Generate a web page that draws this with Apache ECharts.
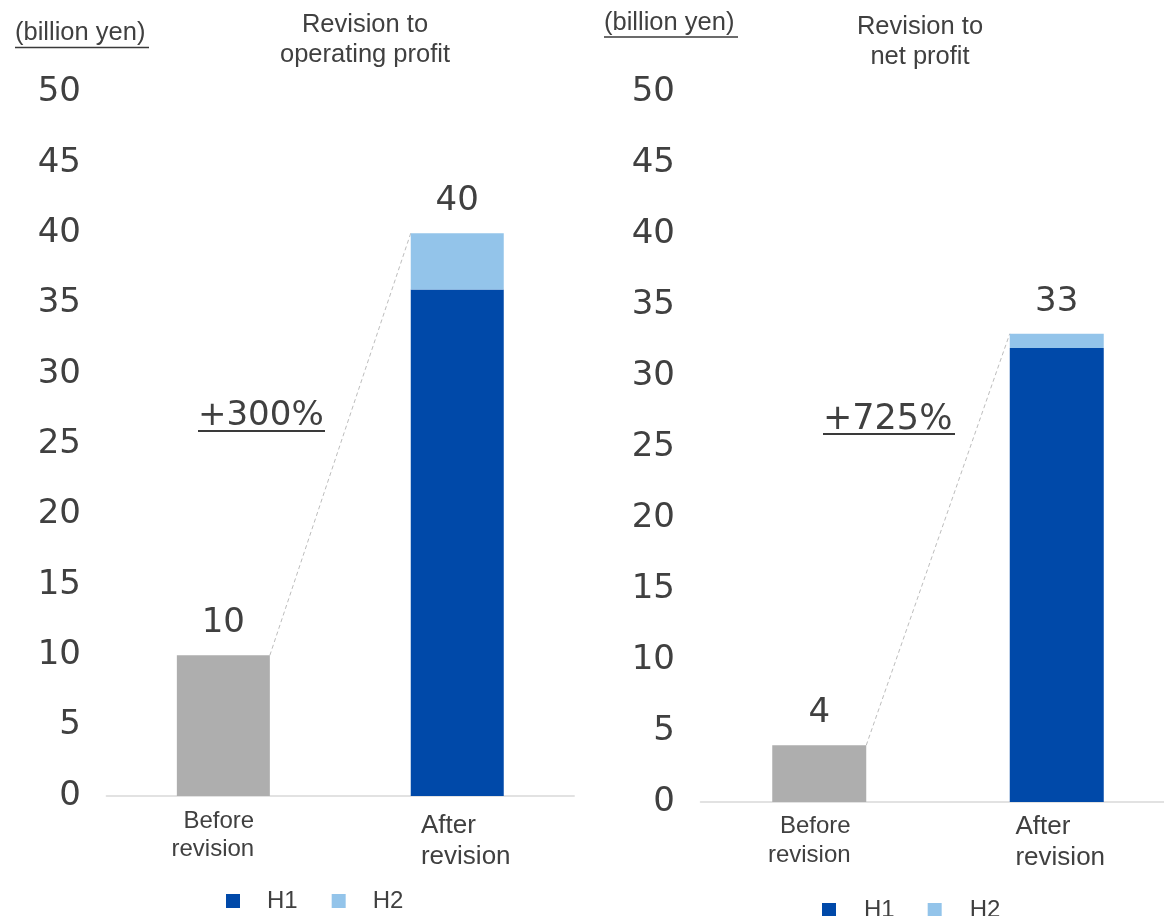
<!DOCTYPE html>
<html>
<head>
<meta charset="utf-8">
<script src="https://cdn.jsdelivr.net/npm/echarts@6/dist/echarts.min.js"></script>
<style>
html,body{margin:0;padding:0;background:#fff;}
#main{width:1164px;height:916px;}
</style>
</head>
<body>
<div id="main"></div>
<script>
// ---- data ----
const categories = ['Before revision', 'After revision'];
const opBefore = [10, '-'];
const opH1 = ['-', 36];
const opH2 = ['-', 4];
const opTotals = [10, 40];
const netBefore = [4, '-'];
const netH1 = ['-', 32];
const netH2 = ['-', 1];
const netTotals = [4, 33];
const yMin = 0, yMax = 50, yStep = 5;
const opChange = '+300%';
const netChange = '+725%';
const titles = ['Revision to\noperating profit', 'Revision to\nnet profit'];
const unitLabel = '(billion yen)';
const legendNames = ['H1', 'H2'];

// ---- styles ----
const GRAY = '#AEAEAE', H1C = '#0049A9', H2C = '#93C4EA';
const TXT = '#404040';
const NUMFONT = 'DejaVu Sans';
const SANS = 'Liberation Sans, Arial, sans-serif';

const chart = echarts.init(document.getElementById('main'));

function xAxisFor(gridIndex, beforePad, afterPad, margin) {
  return {
    type: 'category', gridIndex: gridIndex,
    data: [
      {value: categories[0], textStyle: {padding: beforePad}},
      {value: categories[1], textStyle: {padding: afterPad}}
    ],
    axisLine: {show: true, lineStyle: {color: '#D9D9D9', width: 1.5}},
    axisTick: {show: false},
    axisLabel: {
      margin: margin, interval: 0, hideOverlap: false,
      formatter: function (v, i) {
        const parts = v.split(' ');
        return i === 0 ? '{b|' + parts[0] + '}\n{b|' + parts[1] + '}'
                       : '{a|' + parts[0] + '}\n{a|' + parts[1] + '}';
      },
      rich: {
        b: {fontFamily: SANS, fontSize: 24, lineHeight: gridIndex === 0 ? 28 : 29, color: TXT, align: 'right'},
        a: {fontFamily: SANS, fontSize: 26, lineHeight: 31, color: TXT, align: 'left'}
      }
    }
  };
}
function yAxisFor(gridIndex) {
  return {
    type: 'value', gridIndex: gridIndex, min: yMin, max: yMax, interval: yStep,
    axisLine: {show: false}, axisTick: {show: false}, splitLine: {show: false},
    axisLabel: {margin: 25.5, align: 'right', fontFamily: NUMFONT, fontSize: 34, color: TXT}
  };
}
const valLabel = {show: true, position: 'top', distance: 15, fontFamily: NUMFONT, fontSize: 34, color: TXT};

function seriesFor(idx, before, h1, h2, totals, bw) {
  return [
    {name: 'Before', type: 'bar', xAxisIndex: idx, yAxisIndex: idx, stack: 's' + idx, barWidth: bw,
     data: before, itemStyle: {color: GRAY}, label: valLabel},
    {name: 'H1', type: 'bar', xAxisIndex: idx, yAxisIndex: idx, stack: 's' + idx, barWidth: bw,
     data: h1, itemStyle: {color: H1C}},
    {name: 'H2', type: 'bar', xAxisIndex: idx, yAxisIndex: idx, stack: 's' + idx, barWidth: bw,
     data: h2, itemStyle: {color: H2C},
     label: Object.assign({}, valLabel, {formatter: function (p) { return totals[p.dataIndex]; }})}
  ];
}
function legendFor(left, top, pad, gap) {
  return {
    data: legendNames, left: left, top: top, orient: 'horizontal',
    icon: 'rect', itemWidth: 14, itemHeight: 14, itemGap: gap,
    selectedMode: false,
    formatter: '{t|{name}}',
    textStyle: {rich: {t: {fontFamily: SANS, fontSize: 24, color: TXT, padding: [0, 0, 0, pad], lineHeight: 24}}}
  };
}

function textEl(x, y, text, font, size, align, lh) {
  return {type: 'text', x: x, y: y, silent: true,
    style: {text: text, fontFamily: font, fontSize: size, fill: TXT, align: align, verticalAlign: 'middle', lineHeight: lh || size}};
}
function underline(x1, x2, y, w) {
  return {type: 'line', silent: true, shape: {x1: x1, y1: y, x2: x2, y2: y}, style: {stroke: '#3a3a3a', lineWidth: w}};
}

const option = {
  animation: false,
  backgroundColor: '#fff',
  grid: [
    {left: 106.4, width: 467.8, top: 92.5, height: 703.5, outerBoundsMode: 'none', containLabel: false},
    {left: 700.5, width: 475, top: 92.5, height: 709.5, outerBoundsMode: 'none', containLabel: false}
  ],
  xAxis: [
    xAxisFor(0, [0, 21, 0, 0], [3.5, 0, 0, 17], 11),
    xAxisFor(1, [0, 20, 0, 0], [0, 0, 0, 7], 9.5)
  ],
  yAxis: [yAxisFor(0), yAxisFor(1)],
  legend: [legendFor(221, 884, 22, 34), legendFor(817, 893, 23, 33)],
  series: [].concat(
    seriesFor(0, opBefore, opH1, opH2, opTotals, 93),
    seriesFor(1, netBefore, netH1, netH2, netTotals, 94)
  ),
  graphic: [
    textEl(15, 33, unitLabel, SANS, 25.5, 'left'),
    underline(15, 149, 47.5, 1.5),
    textEl(604, 22.5, unitLabel, SANS, 25.5, 'left'),
    underline(604, 738, 37, 1.5),
    textEl(365, 40, titles[0], SANS, 25.5, 'center', 30),
    textEl(920, 42, titles[1], SANS, 25.5, 'center', 30),
    textEl(198, 416, opChange, NUMFONT, 34, 'left'),
    underline(198, 325, 431, 2),
    textEl(823, 420, netChange, NUMFONT, 35, 'left'),
    underline(823, 955, 434, 2)
  ]
};
chart.setOption(option);

// connector lines from top-right of "before" bar to top-left of "after" bar
function connector(idx, totals, bw) {
  const p0 = chart.convertToPixel({xAxisIndex: idx, yAxisIndex: idx}, [0, totals[0]]);
  const p1 = chart.convertToPixel({xAxisIndex: idx, yAxisIndex: idx}, [1, totals[1]]);
  return {type: 'line', silent: true, z: 1,
    shape: {x1: p0[0] + bw / 2, y1: p0[1], x2: p1[0] - bw / 2, y2: p1[1]},
    style: {stroke: '#BDBDBD', lineWidth: 1, lineDash: [4, 3]}};
}
chart.setOption({graphic: option.graphic.concat([connector(0, opTotals, 93), connector(1, netTotals, 94)])});
</script>
</body>
</html>
